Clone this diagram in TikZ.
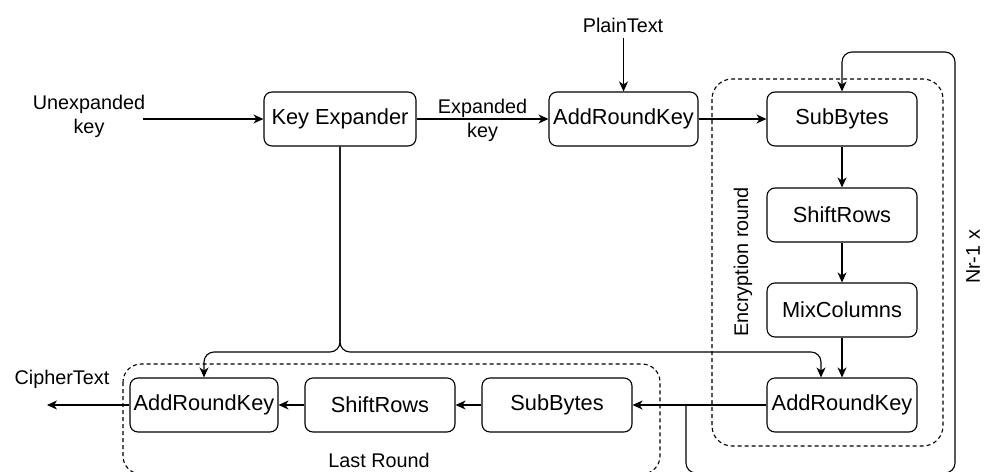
\documentclass[tikz,border=0pt]{standalone}
\usepackage{fontspec}
\setmainfont{Liberation Sans}
\usetikzlibrary{arrows.meta}
\begin{document}
\begin{tikzpicture}[x=1pt,y=-1pt,
  box/.style={draw, line width=1.1pt, rounded corners=8pt, minimum width=150pt, minimum height=54pt, inner sep=0pt, font=\fontsize{21.8}{24}\selectfont},
  lbl/.style={inner sep=0pt, align=center, font=\fontsize{19.8}{24}\selectfont},
  arr/.style={line width=1.1pt, -{Stealth[length=10pt,width=9pt,inset=3pt]}},
  dashbox/.style={line width=1.1pt, dash pattern=on 4pt off 3pt, rounded corners=20pt}]
\useasboundingbox (0,0) rectangle (984,471);
% dashed groups
\draw[dashbox] (712,79) rectangle (943,446);
\draw[dashbox, rounded corners=18pt] (123,364) rectangle (660,474);
% boxes
\node[box, minimum width=152pt] (ke) at (340,119) {Key Expander};
\node[box, minimum width=149pt] (ark1) at (623.5,119) {AddRoundKey};
\node[box] (sb1) at (842,119) {SubBytes};
\node[box] (sr1) at (842,215) {ShiftRows};
\node[box] (mc) at (842,310) {MixColumns};
\node[box] (ark2) at (842,405) {AddRoundKey};
\node[box] (sb2) at (557,405) {SubBytes};
\node[box] (sr2) at (380,405) {ShiftRows};
\node[box, minimum width=148pt] (ark3) at (204,405) {AddRoundKey};
% labels
\node[lbl] (uk) at (89,116) {Unexpanded\\key};
\node[lbl] (pt) at (623,25) {PlainText};
\node[lbl] (ct) at (62,379) {CipherText};
\node[lbl] (lr) at (379,460) {Last Round};
\node[lbl, rotate=90] (er) at (743,262) {Encryption round};
\node[lbl, rotate=90] (nr) at (973,257) {Nr-1 x};
% coordinates
\coordinate (ukend) at (143,119);
\coordinate (ptend) at (623.5,38);
\coordinate (ctend) at (47,405);
\coordinate (jn) at (686,405);
% connectors
\draw[arr] (ukend) -- (ke.west);
\draw[arr] (ke.east) -- node[lbl, yshift=-1pt]{Expanded\\key} (ark1.west);
\draw[arr] (ptend) -- (ark1.north);
\draw[arr] (ark1.east) -- (sb1.west);
\draw[arr] (sb1.south) -- (sr1.north);
\draw[arr] (sr1.south) -- (mc.north);
\draw[arr] (mc.south) -- (ark2.north);
\draw[arr, rounded corners=10pt] (ke.south) -- (340,352) -| (ark3.north);
\draw[arr, rounded corners=10pt] (ke.south) -- (340,352) -| ([xshift=-21pt]ark2.north);
\draw[arr] (ark2.west) -- (sb2.east);
\draw[arr] (sb2.west) -- (sr2.east);
\draw[arr] (sr2.west) -- (ark3.east);
\draw[arr] (ark3.west) -- (ctend);
\draw[arr, rounded corners=10pt] (jn) -- (686,473) -- (955,473) -- (955,52) -- (842,52) -- (sb1.north);
\end{tikzpicture}
\end{document}
